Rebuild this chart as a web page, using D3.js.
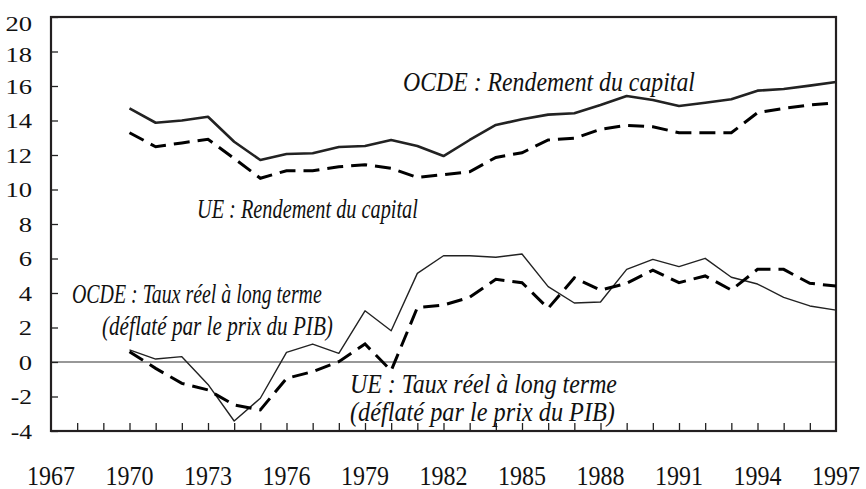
<!DOCTYPE html>
<html><head><meta charset="utf-8">
<script src="https://cdn.jsdelivr.net/npm/d3@7"></script>
<style>
html,body{margin:0;padding:0;background:#fff;}
svg{display:block;}
</style></head>
<body>
<svg id="chart" width="866" height="489"></svg>
<script>
const years = [1970,1971,1972,1973,1974,1975,1976,1977,1978,1979,1980,1981,1982,1983,1984,1985,1986,1987,1988,1989,1990,1991,1992,1993,1994,1995,1996,1997];
const ocdeCapital = [14.7,13.87,14.0,14.22,12.77,11.71,12.06,12.1,12.46,12.52,12.87,12.52,11.94,12.87,13.74,14.07,14.34,14.42,14.9,15.42,15.19,14.84,15.03,15.23,15.73,15.83,16.02,16.23];
const ueCapital = [13.29,12.48,12.7,12.91,11.8,10.65,11.09,11.09,11.32,11.44,11.23,10.7,10.86,11.03,11.86,12.13,12.87,12.97,13.49,13.72,13.64,13.29,13.29,13.29,14.45,14.7,14.9,15.03];
const ocdeTaux = [0.7,0.17,0.31,-1.3,-3.42,-2.1,0.56,1.04,0.5,2.97,1.81,5.14,6.16,6.16,6.07,6.26,4.37,3.42,3.48,5.37,5.95,5.53,6.01,4.91,4.52,3.75,3.25,3.01];
const ueTaux = [0.6,-0.37,-1.24,-1.62,-2.49,-2.78,-0.95,-0.56,0.02,1.04,-0.5,3.15,3.3,3.75,4.79,4.6,3.11,4.88,4.17,4.56,5.33,4.6,4.99,4.17,5.37,5.37,4.56,4.41];
const yTicks = [-4,-2,0,2,4,6,8,10,12,14,16,18,20];
const xTickLabels = [1967,1970,1973,1976,1979,1982,1985,1988,1991,1994,1997];
const labelOcdeCap = "OCDE : Rendement du capital";
const labelUeCap = "UE : Rendement du capital";
const labelOcdeTaux = ["OCDE : Taux réel à long terme", "(déflaté par le prix du PIB)"];
const labelUeTaux = ["UE : Taux réel à long terme", "(déflaté par le prix du PIB)"];

const FONT = "'Liberation Serif', 'Times New Roman', Tinos, 'DejaVu Serif', serif";

const svg = d3.select("#chart");
const L = 51, R = 836, T = 17, B = 431;
const x = d3.scaleLinear().domain([1967,1997]).range([L,R]);
const y = d3.scaleLinear().domain([-4,20]).range([B,T]);

// zero line
svg.append("line").attr("x1",L).attr("x2",R).attr("y1",y(0)).attr("y2",y(0))
  .attr("stroke","#333").attr("stroke-width",1.2);

// axes ticks (inward)
const yAxis = d3.axisRight(y).tickValues(yTicks).tickSize(7).tickFormat("");
svg.append("g").attr("transform",`translate(${L},0)`).call(yAxis)
  .call(g=>{g.select(".domain").remove();g.selectAll("line").attr("stroke","#222").attr("stroke-width",1.3);});
const xAxis = d3.axisTop(x).tickValues(d3.range(1968,1997)).tickSize(8).tickFormat("");
svg.append("g").attr("transform",`translate(0,${B})`).call(xAxis)
  .call(g=>{g.select(".domain").remove();g.selectAll("line").attr("stroke","#222").attr("stroke-width",1.3);});

// box
svg.append("rect").attr("x",L).attr("y",T).attr("width",R-L).attr("height",B-T)
  .attr("fill","none").attr("stroke","#231f20").attr("stroke-width",2.2);

function fitW(t, x0, yb, w){
  const len = t.node().getComputedTextLength();
  const s = len>0 ? w/len : 1;
  t.attr("x",0).attr("y",0).attr("transform",`translate(${x0},${yb}) scale(${s},1)`);
}

// y labels (right aligned at x=32)
svg.append("g").selectAll("text").data(yTicks).join("text")
  .attr("font-family",FONT).attr("fill","#111")
  .attr("text-anchor","end").attr("font-size",22)
  .text(d=>d)
  .each(function(d){
    const w = String(d).replace("-","").length*13.3 + (d<0?8:0);
    const s = w/this.getComputedTextLength();
    d3.select(this).attr("transform",`translate(32,${y(d)+7.5+(d>=18?(d-16)*1.5:0)}) scale(${s},1)`);
  });

// x labels (centered under ticks)
svg.append("g").selectAll("text").data(xTickLabels).join("text")
  .attr("font-family",FONT).attr("fill","#111")
  .attr("text-anchor","middle").attr("font-size",26.5)
  .text(d=>d)
  .each(function(d){
    const s = 48/this.getComputedTextLength();
    d3.select(this).attr("transform",`translate(${x(d)},485) scale(${s},1)`);
  });

const line = vals => d3.line().x((d,i)=>x(years[i])).y(d=>y(d))(vals);

svg.append("path").attr("d",line(ocdeTaux)).attr("fill","none").attr("stroke","#222").attr("stroke-width",1.4).attr("stroke-linejoin","round");
svg.append("path").attr("d",line(ueTaux)).attr("fill","none").attr("stroke","#000").attr("stroke-width",3).attr("stroke-dasharray","16,8");
svg.append("path").attr("d",line(ocdeCapital)).attr("fill","none").attr("stroke","#222").attr("stroke-width",2.6).attr("stroke-linejoin","round");
svg.append("path").attr("d",line(ueCapital)).attr("fill","none").attr("stroke","#000").attr("stroke-width",3).attr("stroke-dasharray","16,8");

// annotations: text, x start, baseline, target width
function label(txt, x0, yb, w){
  const t = svg.append("text").attr("font-size",26.5)
    .attr("font-family",FONT).attr("fill","#111")
    .attr("font-style","italic").text(txt);
  fitW(t, x0, yb, w);
}
label(labelOcdeCap, 403, 91, 292);
label(labelUeCap, 197, 218, 221);
label(labelOcdeTaux[0], 72, 303, 250);
label(labelOcdeTaux[1], 102, 335, 231);
label(labelUeTaux[0], 350, 393, 267);
label(labelUeTaux[1], 350, 421, 265);
</script>
</body></html>
